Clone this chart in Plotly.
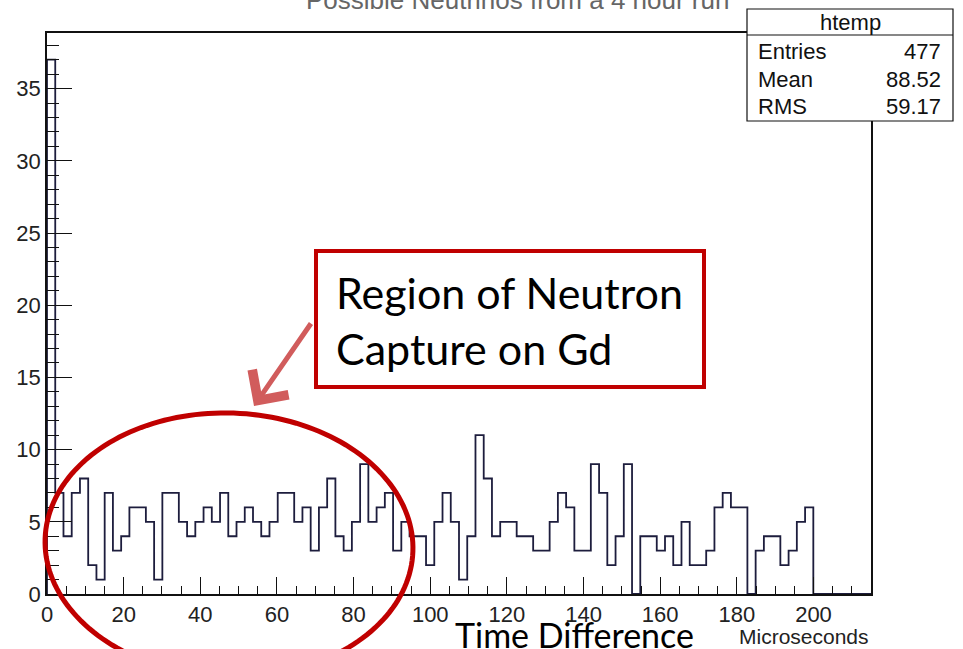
import numpy as np
import plotly.graph_objects as go

# Histogram "htemp": 100 bins over 0-215 microseconds
x_min, x_max, n_bins = 0.0, 215.0, 100
counts = [37, 7, 4, 7, 8, 2, 1, 7, 3, 4,
          6, 6, 5, 1, 7, 7, 5, 4, 5, 6,
          5, 7, 4, 5, 6, 5, 4, 5, 7, 7,
          5, 6, 3, 6, 8, 4, 3, 5, 9, 5,
          6, 7, 3, 5, 4, 4, 2, 5, 7, 5,
          1, 4, 11, 8, 4, 5, 5, 4, 4, 3,
          3, 5, 7, 6, 3, 3, 9, 7, 2, 4,
          9, 0, 4, 4, 3, 4, 2, 5, 2, 2,
          3, 6, 7, 6, 6, 0, 3, 4, 4, 2,
          3, 5, 6, 0, 0, 0, 0, 0, 0, 0]
x_ticks = [0, 20, 40, 60, 80, 100, 120, 140, 160, 180, 200]
y_ticks = [0, 5, 10, 15, 20, 25, 30, 35]
stat_names = ["Entries", "Mean", "RMS"]
stat_values = ["477", "88.52", "59.17"]

title_text = "Possible Neutrinos from a 4 hour run"
callout_text = "Region of Neutron<br>Capture on Gd"

W, H = 963, 649
L, R, T, B = 47, 92, 33, 55
PW, PH = W - L - R, H - T - B


def px(x):
    return (x - L) / PW


def py(y):
    return (H - B - y) / PH


edges = np.linspace(x_min, x_max, n_bins + 1)
step_x = [edges[0]] + list(edges)
step_y = [0] + list(counts) + [0]

fig = go.Figure()
fig.add_trace(go.Scatter(
    x=step_x, y=step_y, mode="lines", line_shape="hv",
    line=dict(color="#1d1d3d", width=1.8), hoverinfo="skip", showlegend=False,
))

axis_font = dict(family="Liberation Sans, Arial, Helvetica", size=22, color="#222")
y_max = max(counts) * 1.05

fig.update_xaxes(
    range=[x_min, x_max], tickvals=x_ticks, ticks="inside", ticklen=17,
    tickwidth=1, tickcolor="#111", showline=True, linecolor="#111", linewidth=1.5,
    mirror=True, showgrid=False, zeroline=False, tickfont=axis_font,
    minor=dict(dtick=5, ticks="inside", ticklen=8.5, tickwidth=1, tickcolor="#111"),
)
fig.update_yaxes(
    range=[0, y_max], tickvals=y_ticks, ticks="inside", ticklen=25,
    tickwidth=1, tickcolor="#111", showline=True, linecolor="#111", linewidth=1.5,
    mirror=True, showgrid=False, zeroline=False, tickfont=axis_font,
    minor=dict(dtick=1, ticks="inside", ticklen=12.5, tickwidth=1, tickcolor="#111"),
)

shapes = []
annotations = []

# Statistics box
bx0, bx1, by0, by1, bsep = 747, 953, 9, 121, 35
shapes.append(dict(type="rect", xref="paper", yref="paper",
                   x0=px(bx0), x1=px(bx1), y0=py(by1), y1=py(by0),
                   line=dict(color="#111", width=1.2), fillcolor="white", layer="above"))
shapes.append(dict(type="line", xref="paper", yref="paper",
                   x0=px(bx0), x1=px(bx1), y0=py(bsep), y1=py(bsep),
                   line=dict(color="#111", width=1.2), layer="above"))
stat_font = dict(family="Liberation Sans, Arial, Helvetica", size=22, color="#111")
annotations.append(dict(text="htemp", xref="paper", yref="paper", x=px((bx0 + bx1) / 2),
                        y=py(22), xanchor="center", yanchor="middle", showarrow=False,
                        font=stat_font))
for i, (name, val) in enumerate(zip(stat_names, stat_values)):
    yy = py(52 + 27 * i)
    annotations.append(dict(text=name, xref="paper", yref="paper", x=px(756), y=yy,
                            xanchor="left", yanchor="middle", showarrow=False, font=stat_font))
    annotations.append(dict(text=val, xref="paper", yref="paper", x=px(943), y=yy,
                            xanchor="right", yanchor="middle", showarrow=False, font=stat_font))

# Title, mostly above the visible page
annotations.append(dict(text=title_text, xref="paper", yref="paper", x=px(517), y=py(0),
                        xanchor="center", yanchor="middle", showarrow=False,
                        font=dict(family="Liberation Sans, Arial", size=26, color="#666")))

# Axis title pieces
annotations.append(dict(text="Microseconds", xref="paper", yref="paper", x=1.0, y=py(636),
                        xanchor="right", yanchor="middle", showarrow=False,
                        font=dict(family="Liberation Sans, Arial, Helvetica", size=21,
                                  color="#222")))
annotations.append(dict(text="Time Difference", xref="paper", yref="paper", x=px(574),
                        y=py(634), xanchor="center", yanchor="middle", showarrow=False,
                        font=dict(family="Lato, Open Sans, sans-serif", size=34, color="#000")))

# Callout box
cx0, cx1, cy0, cy1 = 316, 704, 251, 387
shapes.append(dict(type="rect", xref="paper", yref="paper",
                   x0=px(cx0), x1=px(cx1), y0=py(cy1), y1=py(cy0),
                   line=dict(color="#c00000", width=4), fillcolor="white", layer="above"))
annotations.append(dict(text=callout_text, xref="paper", yref="paper", x=px(334), y=py(320),
                        xanchor="left", yanchor="middle", align="left", showarrow=False,
                        font=dict(family="Lato, Open Sans, sans-serif", size=43, color="#000")))

# Arrow from the callout toward the highlighted region
annotations.append(dict(text="", xref="paper", yref="paper", x=px(254), y=py(406),
                        ax=58, ay=-84, showarrow=True, arrowhead=4, arrowsize=1.7,
                        arrowwidth=5, arrowcolor="rgba(192,30,30,0.72)", standoff=0))

# Ellipse around the early-time region
ecx, ecy, ea, eb, th = 229, 545, 184, 132, np.deg2rad(2.0)
t = np.linspace(0, 2 * np.pi, 181)
ex = ecx + ea * np.cos(t) * np.cos(th) - eb * np.sin(t) * np.sin(th)
ey = ecy + ea * np.cos(t) * np.sin(th) + eb * np.sin(t) * np.cos(th)
path = "M " + " L ".join(f"{px(a):.5f},{py(b):.5f}" for a, b in zip(ex, ey)) + " Z"
shapes.append(dict(type="path", xref="paper", yref="paper", path=path,
                   line=dict(color="#c00000", width=5), layer="above"))

fig.update_layout(
    width=W, height=H, margin=dict(l=L, r=R, t=T, b=B),
    paper_bgcolor="white", plot_bgcolor="white",
    shapes=shapes, annotations=annotations, showlegend=False,
)

fig.write_html("out.html")
